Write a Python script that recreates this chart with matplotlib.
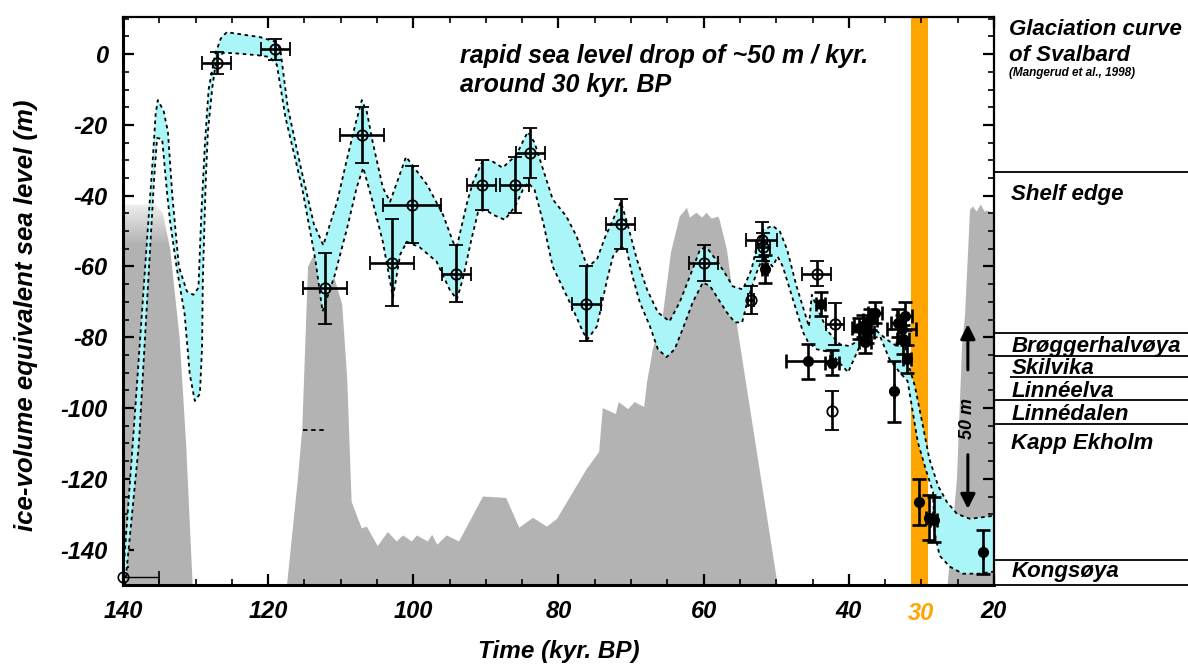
import numpy as np
import matplotlib
matplotlib.use("Agg")
import matplotlib.pyplot as plt
from matplotlib.patches import Polygon

plt.rcParams['font.family'] = ['Liberation Sans', 'DejaVu Sans']
plt.rcParams['font.weight'] = 'bold'
plt.rcParams['font.style'] = 'italic'

# Svalbard glaciation curve (grey areas), kyr BP / m
gray1_x = [140.0, 135.5, 134.5, 133.5, 132.2, 131.3, 130.4]
gray1_y = [-42.5, -42.5, -45, -55, -80, -110, -150]
gray2_x = [117.4, 116.6, 115.9, 115.3, 114.5, 113.1, 112.3, 109.8, 109.1, 108.7, 108.5,
           107.1, 106.4, 104.9, 103.5, 102.3, 101.4, 100.2, 99.5, 98.0, 97.4, 96.7, 95.4,
           93.7, 90.4, 87.2, 85.4, 83.5, 81.6, 80.2, 76.1, 74.4, 73.9, 72.1, 71.7, 70.4,
           69.5, 68.2, 67.8, 67.0, 65.6, 64.5, 63.3, 62.3, 61.9, 61.0, 60.2, 59.6, 58.9,
           58.0, 57.8, 56.8, 56.0, 55.3, 49.8]
gray2_y = [-150, -134, -120, -106, -60, -54.4, -53.2, -70.7, -91.8, -115, -126.5,
           -134, -133.5, -139, -135, -137.7, -136, -137.7, -136, -137.7, -135.8, -138.6, -136,
           -137.7, -125, -125.4, -133.8, -131, -133.5, -131.3, -117.2, -112.4, -100, -101.7, -98.3, -100.3,
           -98.3, -99.7, -92.7, -83.4, -73.5, -56, -45.9, -43.4, -46.2, -44.8, -46.2, -44.8, -46.5,
           -45.9, -46.8, -55.2, -67.3, -78, -150]
gray3_x = [26.4, 25.1, 24.4, 24.0, 23.3, 22.9, 22.4, 21.8, 21.3, 20.9, 20.0]
gray3_y = [-150, -120, -82.5, -74, -44, -43, -44.5, -42.5, -44.5, -44.2, -45]

# sea level band: upper and lower boundaries
top_x = [140.0, 138.3, 136.6, 135.9, 135.5, 135.2, 134.4, 133.8, 133.2, 132.3, 131.2, 130.3,
         129.6, 129.2, 128.7, 128.2, 127.3, 126.5, 125.7, 121.1, 118.8, 118.3, 117.3, 115.5,
         113.7, 112.4, 110.5, 109.1, 108.0, 107.1, 106.4, 105.6, 104.2, 103.2, 101.0, 98.1,
         95.9, 94.5, 94.0, 92.6, 91.8, 90.4, 89.4, 87.7, 85.8, 84.6, 84.2, 83.3, 82.1, 80.8,
         78.9, 77.5, 76.4, 75.9, 74.7, 73.6, 72.9, 71.4, 70.4, 69.2, 67.8, 66.3, 64.7, 63.3,
         61.9, 60.5, 59.6, 58.0, 56.8, 56.0, 54.6, 53.4, 52.7, 51.8, 50.5, 49.5, 48.5, 47.2,
         45.8, 45.5, 45.1, 44.3, 42.9, 41.2, 39.9, 38.5, 37.1, 36.1, 34.8, 33.4, 32.3, 32.0,
         30.9, 29.8, 28.9, 27.7, 26.5, 25.1, 23.3, 21.0, 20.0]
top_y = [-148, -100, -50, -30, -17, -13, -16, -22, -40, -60, -67, -68,
         -66, -45, -25, -10, 0, 4.5, 6.2, 4.8, 3.4, 1, -15, -32,
         -48, -54, -41.7, -29.3, -20, -13, -16.3, -24.8, -37.7, -41.7, -29, -36.9,
         -45.4, -53.2, -54.4, -42, -36.3, -29.9, -29.9, -32.1, -28.5, -23.4, -22, -25, -32.7, -41,
         -45.9, -51.5, -58, -60, -58, -51.8, -48.7, -41.7, -48.7, -58, -66.5, -73, -75.5, -70.1,
         -62.8, -55.2, -54.6, -58.9, -62.8, -65.6, -66.5, -60.8, -54.4, -49.6, -48.5, -50.1, -55.2, -65.6,
         -74.9, -77, -68, -72, -78.3, -82, -82.5, -80.6, -78.3, -78.3, -80.6, -82.5, -80.6, -86.2,
         -93.8, -105, -114.4, -122, -126.5, -129.9, -131.3, -130.7, -130.4]
low_x = [139.7, 137.8, 136.4, 135.7, 135.3, 134.6, 133.9, 133.5, 132.6, 131.5, 130.8, 130.1,
         129.4, 129.1, 129.0, 128.6, 128.3, 127.7, 127.1, 126.2, 124.9, 121.5, 119.8, 118.8,
         117.6, 115.3, 113.5, 112.5, 110.8, 109.1, 107.8, 106.9, 105.6, 104.2, 103.2, 102.8,
         101.8, 100.9, 99.1, 96.8, 95.0, 94.0, 93.2, 92.0, 91.1, 90.1, 89.0, 87.4, 86.0, 84.9,
         84.2, 83.3, 82.1, 80.8, 79.1, 78.0, 76.6, 76.0, 74.7, 73.9, 73.3, 72.5, 71.5, 70.6,
         69.8, 68.8, 67.4, 66.3, 65.1, 64.0, 62.9, 61.5, 60.1, 59.1, 58.2, 56.8, 55.7, 54.7,
         53.9, 52.7, 51.8, 50.5, 49.8, 49.1, 47.7, 46.3, 45.6, 44.4, 42.6, 40.1, 38.5, 37.1,
         35.7, 34.4, 33.0, 31.9, 30.5, 29.3, 28.4, 28.2, 27.5, 26.1, 24.3, 22.0, 20.0]
low_y = [-150, -110, -60, -35, -23.7, -24, -39.7, -47.3, -60.3, -73.5, -90.4, -98,
         -96, -82.8, -64.2, -36, -22, -9.6, -1.1, 0.3, 0.3, -0.3, -0.8, -3,
         -18, -38, -58, -72.7, -62.3, -49, -37.7, -32.1, -41.7, -53, -64.2, -68.7,
         -56.6, -53, -54.6, -58.6, -66.5, -69.3, -63.7, -52.4, -44.8, -43.9, -45.4, -46.8, -43.1, -38.3,
         -36.3, -38.3, -47.6, -60, -67.3, -72.1, -78.6, -80.6, -76.9, -69.3, -63.7, -57.2, -54.4, -55.2,
         -62.8, -70.1, -76.9, -83.4, -85.6, -83.4, -77.7, -70.1, -64.5, -65.6, -68.5, -73, -75.8, -75.8,
         -69.3, -61.7, -57.2, -60, -57.2, -60, -69.3, -78.6, -81.4, -83.4, -84.2, -89.9, -82.5, -80.6,
         -79.7, -86.2, -89.9, -92.4, -109.6, -118, -123.7, -135, -141.7, -144.8, -146.8, -146.8, -146.2]

# dated samples (open symbols)
open_x = [127.1, 119.0, 112.2, 107.1, 102.9, 100.2, 94.1, 90.6, 86.0, 83.9, 76.2, 71.4,
          60.0, 52.0, 51.8, 53.5, 44.4, 41.9, 42.3]
open_y = [-2.5, 1.4, -66.2, -22.8, -58.9, -42.5, -62.0, -37.0, -37.0, -28.0, -70.5, -48.0,
          -59.0, -52.4, -54.4, -69.5, -62.0, -76.3, -100.8]
open_xerr = [2, 2, 3, 3, 3, 4, 2, 2, 2, 2, 2, 2, 2, 2.1, 1, 0.4, 2, 1.2, 0]
open_yerr = [3, 3, 10, 8, 12.4, 11, 8, 7, 8, 7, 10.5, 7, 5, 5, 4, 4, 3.6, 6, 5.5]
# dated samples (filled symbols)
fill_x = [51.6, 43.9, 45.6, 42.3, 38.6, 38.1, 37.8, 37.5, 37.1, 36.4, 33.2, 32.7, 32.5,
          32.3, 32.0, 33.8, 30.4, 28.9, 28.3, 21.5]
fill_y = [-60.8, -70.7, -86.8, -87.2, -77.5, -76.8, -81.4, -78.6, -75.0, -73.0, -76.0, -77.7, -80.6,
          -74.0, -86.2, -95.2, -126.5, -131.0, -131.5, -140.7]
fill_xerr = [0.3, 0.6, 3, 1, 1, 1.2, 0.8, 1, 1, 1, 1, 2, 0.8, 1, 0.6, 0, 0, 0.5, 0.5, 0]
fill_yerr = [4, 3.4, 5, 3.5, 3, 3, 3, 3, 3, 3, 4, 4, 4, 4, 4, 8.6, 6.5, 6.3, 6.3, 6.2]

# right-hand panel: Svalbard levels
level_lines = [-33.3, -78.9, -85.4, -104.5, -97.7, -143, -150]
skilvika_line = -91.3
panel_labels = ["Shelf edge", "Brøggerhalvøya", "Skilvika", "Linnéelva", "Linnédalen",
                "Kapp Ekholm", "Kongsøya"]
panel_label_y = [-41.1, -84.1, -90.4, -97.0, -103.3, -111.7, -147.7]

xticks = [140, 120, 100, 80, 60, 40, 20]
yticks = [0, -20, -40, -60, -80, -100, -120, -140]

fig = plt.figure(figsize=(11.88, 6.66), dpi=100)
ax = fig.add_axes([0.1035, 0.1216, 0.7332, 0.8529])

gcol = '#b3b3b3'
# left grey block with faded top
poly1 = Polygon(list(zip(gray1_x + [140.0], gray1_y + [-150])), closed=True,
                facecolor='none', edgecolor='none')
ax.add_patch(poly1)
lev = np.linspace(-42.5, -150, 200)
shade = np.clip((-42.5 - lev) / 11.0, 0, 1)
img = np.ones((200, 1, 4))
img[:, 0, :3] = (1 - shade[:, None]) * 0.93 + shade[:, None] * 0.70
img[:, 0, 3] = 1
im = ax.imshow(img, extent=[140, 129, -150, -42.5], aspect='auto', zorder=1)
im.set_clip_path(poly1)
ax.fill(gray2_x, gray2_y, color=gcol, lw=0, zorder=1)
ax.fill(gray3_x + [20.0], gray3_y + [-150], color=gcol, lw=0, zorder=1)

ax.axvspan(29.1, 31.5, color='#ffa500', lw=0, zorder=1.5)

band_x = top_x + low_x[::-1]
band_y = top_y + low_y[::-1]
ax.fill(band_x, band_y, color='#aaf5f8', lw=0, zorder=2)
ax.plot(top_x, top_y, color='black', lw=1.3, ls=(0, (2, 2)), zorder=3)
ax.plot(low_x, low_y, color='black', lw=1.3, ls=(0, (2, 2)), zorder=3)

ax.plot([115.2, 111.9], [-106.2, -106.2], color='black', lw=1.3, ls=(0, (2.5, 2)), zorder=3)

ekw = dict(fmt='o', color='black', ecolor='black', elinewidth=1.9, capsize=5, capthick=1.9, zorder=5)
ax.errorbar(open_x, open_y, xerr=open_xerr, yerr=open_yerr, mfc='none', mec='black',
            ms=7.5, mew=1.3, **ekw)
ax.errorbar(fill_x, fill_y, xerr=fill_xerr, yerr=fill_yerr, mfc='black', mec='black',
            ms=7, **ekw)
ax.errorbar([140], [-147.6], xerr=[[5], [0]], fmt='o', mfc='none', mec='black', ms=7.5,
            mew=1.2, ecolor='black', elinewidth=1.0, capsize=4, capthick=1.0, zorder=5, clip_on=False)

ax.text(93.6, -2.5, "rapid sea level drop of ~50 m / kyr.", fontsize=18, ha='left', va='baseline')
ax.text(93.6, -10.7, "around 30 kyr. BP", fontsize=18, ha='left', va='baseline')

ax.annotate('', xy=(23.6, -75.5), xytext=(23.6, -90),
            arrowprops=dict(arrowstyle='-|>', lw=2.2, color='black', mutation_scale=22))
ax.annotate('', xy=(23.6, -129.3), xytext=(23.6, -112.4),
            arrowprops=dict(arrowstyle='-|>', lw=2.2, color='black', mutation_scale=22))
ax.text(23.6, -103, "50 m", rotation=90, fontsize=13, ha='center', va='center')

ax.set_xlim(140, 20)
ax.set_ylim(-150, 10.5)
ax.set_xticks(xticks)
ax.set_xticks(np.arange(20, 141, 5), minor=True)
ax.set_yticks(yticks)
ax.set_yticks(np.arange(-150, 11, 5), minor=True)
ax.set_xticklabels([str(t) for t in xticks])
ax.set_yticklabels([str(t) for t in yticks])
ax.tick_params(which='both', direction='in', top=True, right=True, labelsize=17)
ax.tick_params(which='major', length=8, width=1.6, pad=11)
ax.tick_params(which='minor', length=4, width=1.2)
for s in ax.spines.values():
    s.set_linewidth(1.6)
ax.spines['left'].set_linewidth(2.2)
ax.spines['bottom'].set_linewidth(2.2)

ax.text(30, -0.03, "30", color='#ffa500', fontsize=17, ha='center', va='top',
        transform=ax.get_xaxis_transform())

ax.set_xlabel("Time (kyr. BP)", fontsize=17.5, fontweight='bold')
ax.set_ylabel("ice-volume equivalent sea level (m)", fontsize=18.5, fontweight='bold')
ax.xaxis.set_label_coords(0.5, -0.097)
ax.yaxis.set_label_coords(-0.098, 0.475)

# right panel
ax2 = fig.add_axes([0.8367, 0.1216, 0.1633, 0.8529])
ax2.set_xlim(0, 1)
ax2.set_ylim(-150, 10.5)
ax2.axis('off')
ax2.hlines(level_lines, 0, 1, color='black', lw=1.3, clip_on=False)
ax2.hlines([skilvika_line], 0.08, 1, color='black', lw=1.3, clip_on=False)
ax2.text(0.075, 5.4, "Glaciation curve", fontsize=16, ha='left', va='baseline', clip_on=False)
ax2.text(0.075, -2.0, "of Svalbard", fontsize=16, ha='left', va='baseline', clip_on=False)
ax2.text(0.075, -6.2, "(Mangerud et al., 1998)", fontsize=8.5, ha='left', va='baseline', clip_on=False)
for lab, yy in zip(panel_labels, panel_label_y):
    ax2.text(0.09, yy, lab, fontsize=16, ha='left', va='baseline', clip_on=False)

fig.savefig("out.png", dpi=100, facecolor='white')
